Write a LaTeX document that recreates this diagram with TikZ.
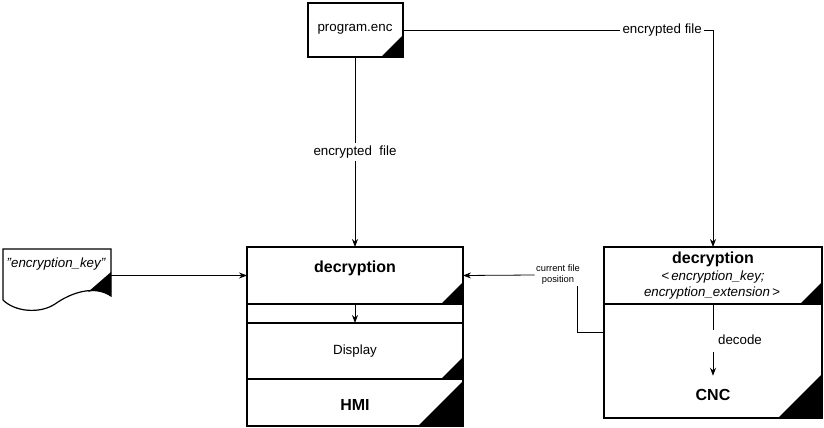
\documentclass[tikz,border=0pt]{standalone}
\usepackage{fontspec}
\setmainfont{Liberation Sans}
\usetikzlibrary{arrows.meta}
\newcommand\blackcorner[2]{\fill (#1) -- ++(-#2,0) -- ++(#2,-#2) -- cycle;}
\begin{document}
\begin{tikzpicture}[x=0.75pt,y=-0.75pt,
  box/.style={draw, line width=0.9pt, anchor=north west, inner sep=0pt, outer sep=0pt},
  sz/.style 2 args={minimum width={#1*0.75pt}, minimum height={#2*0.75pt}},
  lbl/.style={font=\fontsize{10}{12}\selectfont, inner sep=1pt},
  small/.style={font=\fontsize{7}{8.25}\selectfont, inner sep=1pt, align=center},
  big/.style={font=\fontsize{12}{14}\selectfont\bfseries, inner sep=1pt},
  arr/.style={-{Stealth[length=6pt,width=4.5pt]}, line width=0.6pt},
  con/.style={line width=0.6pt}]
\useasboundingbox (0,0) rectangle (824,428);

% program.enc
\node[box, sz={95}{54}] (prog) at (308,3) {};
\node[lbl] (progt) at (355,29) {program.enc};
\blackcorner{prog.south east}{22}

% encryption key document
\node[inner sep=0pt, outer sep=0pt, anchor=north west, sz={108}{53}] (keybox) at (3,249) {};
\draw[line width=0.9pt] (3,300) -- (3,249) -- (111,249) -- (111,296)
  .. controls (95,285) and (72,292) .. (55,304)
  .. controls (40,314) and (15,312) .. (3,300);
\fill (111,272) -- (88,292) .. controls (96,289) and (104,292) .. (111,296) -- cycle;
\node[lbl, font=\fontsize{10}{12}\selectfont\itshape] (keyt) at (56,264) {"encryption\_key"};

% left stack (HMI)
\node[box, sz={216}{179}] (frameL) at (247,247) {};
\node[box, sz={216}{57}] (decL) at (247,247) {};
\node[box, sz={216}{56}] (disp) at (247,323) {};
\node[box, sz={216}{47}] (hmi) at (247,379) {};
\node[big] (decLt) at (355,268) {decryption};
\node[lbl] (dispt) at (355,351) {Display};
\node[big] (hmit) at (355,405) {HMI};
\blackcorner{decL.south east}{22}
\blackcorner{disp.south east}{22}
\blackcorner{hmi.south east}{45}

% right stack (CNC)
\node[box, sz={218}{171}] (cncF) at (604,247) {};
\node[box, sz={218}{57}] (decR) at (604,247) {};
\node[big] (decRt) at (713,259) {decryption};
\node[lbl, font=\fontsize{10}{12}\selectfont\itshape] (decR2) at (713,277) {<\,encryption\_key;};
\node[lbl, font=\fontsize{10}{12}\selectfont\itshape] (decR3) at (712,293) {encryption\_extension\,>};
\node[big] (cnc) at (713,395) {CNC};
\blackcorner{decR.south east}{22}
\blackcorner{cncF.south east}{44}

% connectors
\draw[arr] (prog.south -| decLt) -- node[lbl, fill=white, inner sep=2pt, pos=0.5] {encrypted\ \ file} (decL.north);
\draw[arr] (prog.east) -| node[lbl, fill=white, inner sep=2pt, pos=0.418] {encrypted file} (decR.north);
\draw[arr] (keybox.east) -- (decL.west);
\draw[arr] (decL.south) -- (disp.north);

\node[small] (cfp) at (558,275) {current file\\position};
\draw[arr] (cfp.west) -- (decL.east);
\coordinate (cfpd) at (577,286);
\draw[con] (cfpd) |- (cncF.west);

\coordinate (dec1) at (713,330);
\coordinate (dec2) at (713,352);
\draw[con] (decR.south) -- (dec1);
\draw[arr] (dec2) -- ([yshift=9pt]cnc.north);
\node[lbl] (dect) at (740,340) {decode};
\end{tikzpicture}
\end{document}
